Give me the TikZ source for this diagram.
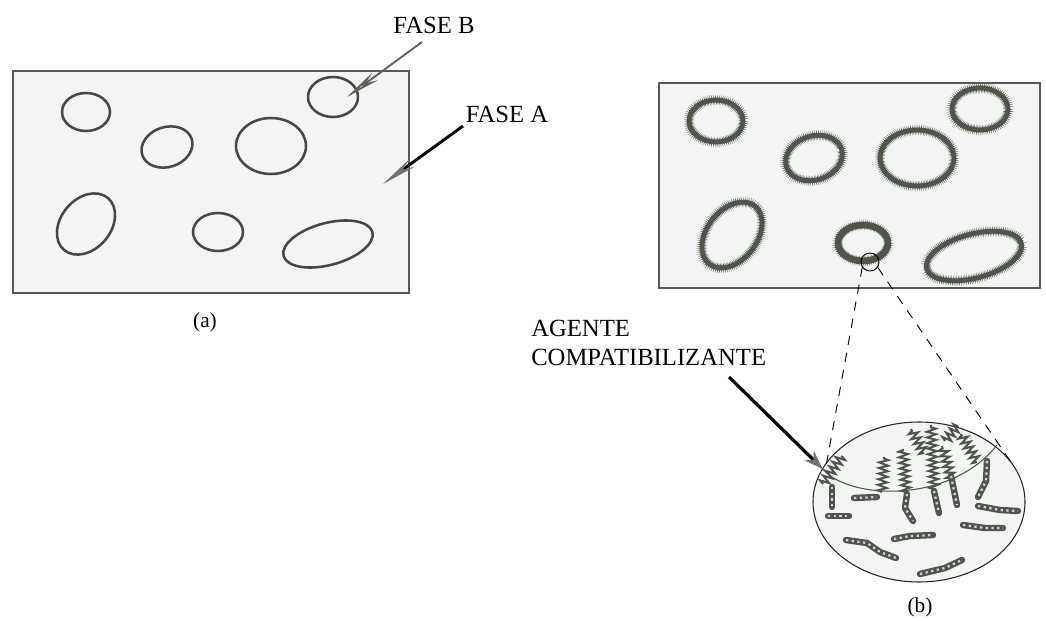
\documentclass[tikz,border=0pt]{standalone}
\usepackage{fontspec}
\setmainfont{Liberation Serif}
\usetikzlibrary{arrows.meta,decorations.pathmorphing,shapes.geometric}

\definecolor{inkgray}{HTML}{474846}
\definecolor{framegray}{HTML}{595A58}
\definecolor{paper}{HTML}{F3F5F3}
\definecolor{fuzz}{HTML}{4E564C}
\definecolor{tipgray}{HTML}{6F746D}

% ring of phase B coated with compatibilizer: thick ring plus short hairs
\newcommand\coatring[5]{%
  \draw[coated, rotate around={#5:(#1,#2)}] (#1,#2) ellipse [x radius=#3, y radius=#4];
  \draw[hairs,  rotate around={#5:(#1,#2)}] (#1,#2) ellipse [x radius=#3, y radius=#4];}

\begin{document}
\begin{tikzpicture}[x=0.75pt,y=-0.75pt,
  panel/.style={draw=framegray, fill=paper, line width=1.5pt},
  drop/.style={draw=inkgray, line width=1.9pt},
  coated/.style={draw=fuzz, line width=3.6pt},
  hairs/.style={draw=fuzz, line width=0.45pt, decorate,
    decoration={zigzag, segment length=1.3pt, amplitude=2.3pt}},
  lbl/.style={font=\fontsize{18.5}{21.75}\selectfont, inner sep=0pt, text=black},
  caption/.style={font=\fontsize{16}{19}\selectfont, inner sep=0pt, text=black},
  chain/.style={draw=fuzz, line width=1.5pt, line join=miter, decorate,
    decoration={zigzag, segment length=4.2pt, amplitude=3.4pt}},
  beads/.style={draw=fuzz, line width=4.8pt, line cap=round, line join=round,
    postaction={draw=paper!80!fuzz, line width=1.7pt, dash pattern=on 1.7pt off 2.6pt, line cap=butt}},
  guide/.style={draw=black, line width=0.7pt, dash pattern=on 7pt off 6pt},
]
\fill[white] (0,0) rectangle (1046,621);
\useasboundingbox (0,0) rectangle (1046,621);

% ---------- (a) uncompatibilized blend ----------
\draw[panel] (13,71) rectangle (409,293);
\draw[drop] (86,112) ellipse [x radius=24, y radius=19];
\draw[drop, rotate around={18:(167,147)}] (167,147) ellipse [x radius=26, y radius=20];
\draw[drop] (271,146) ellipse [x radius=35, y radius=28];
\draw[drop, rotate around={50:(86,224)}] (86,224) ellipse [x radius=34, y radius=25];
\draw[drop] (218,232) ellipse [x radius=25, y radius=19];
\draw[drop] (333,97) ellipse [x radius=25, y radius=20];
\draw[drop, rotate around={15:(328,244)}] (328,244) ellipse [x radius=46, y radius=21];

\node[lbl] (faseB) at (434,25) {FASE B};
\node[lbl] (faseA) at (507,114) {FASE A};
\coordinate (fbTail) at (422,42);
\coordinate (fbTip) at (347,97);
\coordinate (faTail) at (463,126);
\coordinate (faTip) at (383,184);
\draw[draw=tipgray!85!black, line width=1.4pt, -{Stealth[open, length=26pt, width=7pt]}] (fbTail) -- (fbTip);
\draw[line width=2.2pt, -{Stealth[length=27pt, width=7pt, color=tipgray]}] (faTail) -- (faTip);

\node[caption] (capA) at (205,322) {(a)};

% ---------- (b) compatibilized blend ----------
\draw[panel] (659,83) rectangle (1040,288);
\coatring{716}{121}{27}{21}{0}
\coatring{814}{158}{29}{22}{18}
\coatring{917}{158}{37}{28}{0}
\coatring{980}{109}{28}{21}{0}
\coatring{732}{235}{37}{25}{52}
\coatring{974}{256}{49}{22}{15}
\draw[coated, line width=5pt] (863,243) ellipse [x radius=25, y radius=18];
\draw[hairs] (863,243) ellipse [x radius=25, y radius=18];

% magnified interface
\node[draw=black, line width=0.7pt, circle, minimum size=13.5pt, inner sep=0pt] (lens) at (870,262) {};
\node[draw=black!85, fill=paper, line width=0.8pt, ellipse, minimum width=159pt,
      minimum height=120pt, inner sep=0pt, outer sep=0pt] (zoom) at (919,502) {};
\draw[guide] (lens.215) -- (zoom.157);
\draw[guide] (lens.325) -- (zoom.20);

% interface line with grafted chains
\draw[draw=fuzz, line width=0.8pt] (821,467) .. controls (845,500) and (950,505) .. (997,445);
\draw[chain] (823,484) -- (842,456);
\draw[chain] (882,492) -- (884,457);
\draw[chain] (906,492) -- (903,449);
\draw[chain] (934,489) -- (931,425);
\draw[chain] (924,453) -- (911,429);
\draw[chain] (951,478) -- (942,446);
\draw[chain] (945,441) -- (958,426);
\draw[chain] (977,462) -- (961,434);

% chains anchored in phase B
\draw[beads] (832,487) -- (832,507);
\draw[beads] (907,494) -- (905,508) -- (913,521);
\draw[beads] (934,491) -- (939,513);
\draw[beads] (951,476) -- (957,505);
\draw[beads] (987,461) -- (986,481) -- (978,497);

% free chains of phase B
\draw[beads] (828,516) -- (849,516);
\draw[beads] (854,498) -- (877,497);
\draw[beads] (846,540) -- (867,543) -- (880,552) -- (896,558);
\draw[beads] (894,539) -- (910,536) -- (933,535);
\draw[beads] (963,525) -- (985,528) -- (1003,528);
\draw[beads] (978,506) -- (1000,510) -- (1018,511);
\draw[beads] (920,574) -- (945,568) -- (962,560);

\node[lbl, align=left, anchor=north west] (agent) at (531,320) {AGENTE\\COMPATIBILIZANTE};
\coordinate (agTail) at (729,377);
\draw[line width=2.4pt, -{Stealth[length=14pt, width=10pt, color=tipgray]}] (agTail) -- (zoom.161);

\node[caption] (capB) at (920,607) {(b)};
\end{tikzpicture}
\end{document}
